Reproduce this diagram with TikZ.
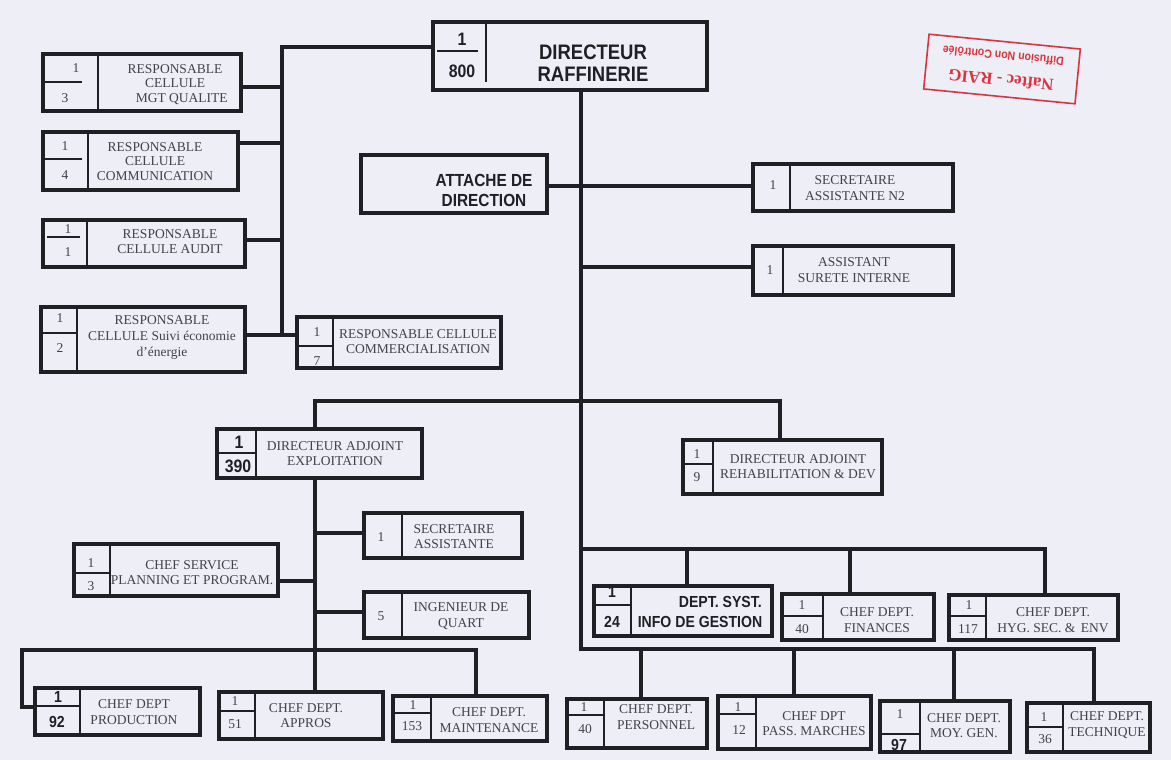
\documentclass[tikz,border=0pt]{standalone}
\usepackage{fontspec}
\setmainfont{Liberation Serif}
\setsansfont{Liberation Sans}
\newfontfamily\hsans{Liberation Sans}[FakeStretch=0.88]
\usetikzlibrary{fit}
\definecolor{ink}{RGB}{32,32,36}
\definecolor{txt}{RGB}{66,66,72}
\definecolor{bgc}{RGB}{237,238,246}
\definecolor{stampred}{RGB}{218,52,62}
\newcommand\obox[5]{\node[obx, fit={(#2,#3) (#4,#5)}] (#1) {};}
\begin{document}
\begin{tikzpicture}[x=1pt,y=-1pt,
 obx/.style={draw=ink,line width=3.2pt,inner sep=0pt,outer sep=0pt},
 conn/.style={draw=ink,line width=3.1pt},
 divl/.style={draw=ink,line width=2pt},
 hl/.style={draw=ink,line width=1.5pt},
 stx/.style={text=txt,font=\fontsize{13.5}{15.5}\selectfont,align=center,inner sep=0pt},
 stxc/.style={stx,font=\fontsize{13.5}{14.5}\selectfont},
 num/.style={text=txt,font=\fontsize{13.5}{13.5}\selectfont,inner sep=0pt},
 bnum/.style={text=ink,font=\hsans\bfseries\fontsize{18}{18}\selectfont,inner sep=0pt},
 bnums/.style={text=ink,font=\hsans\bfseries\fontsize{16}{16}\selectfont,inner sep=0pt},
 btx/.style={text=ink,font=\hsans\bfseries\fontsize{17.5}{20}\selectfont,align=center,inner sep=0pt},
]
\fill[bgc] (0,0) rectangle (1171,760);
\useasboundingbox (0,0) rectangle (1171,760);

% ---------- boxes ----------
\obox{dir}{433}{22}{707}{90}
\obox{att}{361}{155}{547}{213}
\obox{mgt}{43}{54}{241}{111}
\obox{comm}{43}{132}{238}{190}
\obox{aud}{43}{220}{245}{267}
\obox{suivi}{41}{307}{245}{372}
\obox{comc}{297}{317}{501}{368}
\obox{sec2}{753}{164}{953}{211}
\obox{sur}{753}{246}{953}{295}
\obox{daex}{217}{429}{422}{478}
\obox{dare}{683}{440}{882}{494}
\obox{sa}{364}{513}{522}{558}
\obox{ing}{364}{592}{529}{638}
\obox{plan}{74}{544}{278}{596}
\obox{syst}{594}{586}{772}{636}
\obox{fin}{782}{594}{934}{640}
\obox{hyg}{949}{595}{1118}{640}
\obox{prod}{35}{688}{200}{735}
\obox{appr}{219}{692}{383}{739}
\obox{maint}{393}{696}{547}{741}
\obox{pers}{567}{699}{707}{748}
\obox{pass}{718}{696}{871}{749}
\obox{moy}{880}{701}{1010}{752}
\obox{tech}{1027}{703}{1150}{752}

% ---------- box interiors ----------
% directeur
\draw[divl] (486,24) -- (486,82);
\draw[hl] (437,51) -- (478,51);
\node[bnum] (dir-a) at (462,39) {1};
\node[bnum] (dir-b) at (462,71) {800};
\node[btx,font=\hsans\bfseries\fontsize{21}{22}\selectfont] (dir-t) at (593,63) {DIRECTEUR\\RAFFINERIE};
% attache
\node[btx] (att-t) at (484,190) {ATTACHE DE\\DIRECTION};
% mgt qualite
\draw[divl] (98,54) -- (98,111);
\draw[hl] (45,82) -- (82,82);
\node[num] (mgt-a) at (76,68) {1};
\node[num] (mgt-b) at (65,98) {3};
\node[stxc] (mgt-t) at (175,84.5) {RESPONSABLE\\CELLULE\\\hspace*{1em}MGT QUALITE};
% communication
\draw[divl] (88,132) -- (88,190);
\draw[hl] (45,159) -- (82,159);
\node[num] (comm-a) at (65,146) {1};
\node[num] (comm-b) at (65,175) {4};
\node[stxc] (comm-t) at (155,161.5) {RESPONSABLE\\CELLULE\\COMMUNICATION};
% audit
\draw[divl] (87,220) -- (87,267);
\draw[hl] (47,237) -- (80,237);
\node[num] (aud-a) at (68,229) {1};
\node[num] (aud-b) at (68,252) {1};
\node[stx] (aud-t) at (170,241.5) {RESPONSABLE\\CELLULE AUDIT};
% suivi energie
\draw[divl] (77,307) -- (77,372);
\draw[hl] (41,333) -- (77,333);
\node[num] (suivi-a) at (60,318) {1};
\node[num] (suivi-b) at (60,348) {2};
\node[stx,font=\fontsize{13.5}{16}\selectfont] (suivi-t) at (162,337.5) {RESPONSABLE\\CELLULE Suivi économie\\d'énergie};
% commercialisation
\draw[divl] (333,317) -- (333,368);
\draw[hl] (297,346) -- (333,346);
\node[num] (comc-a) at (317,332) {1};
\node[num] (comc-b) at (317,361) {7};
\node[stx] (comc-t) at (418,341.5) {RESPONSABLE CELLULE\\COMMERCIALISATION};
% secretaire N2
\draw[divl] (790,164) -- (790,211);
\node[num] (sec2-a) at (773,185) {1};
\node[stx] (sec2-t) at (855,188) {SECRETAIRE\\ASSISTANTE N2};
% surete
\draw[divl] (783,246) -- (783,295);
\node[num] (sur-a) at (770,270) {1};
\node[stx] (sur-t) at (854,270) {ASSISTANT\\SURETE INTERNE};
% DA exploitation
\draw[divl] (256,429) -- (256,478);
\draw[hl] (217,453) -- (256,453);
\node[bnum] (daex-a) at (239,442) {1};
\node[bnum] (daex-b) at (238,466) {390};
\node[stx] (daex-t) at (335,453.5) {DIRECTEUR ADJOINT\\EXPLOITATION};
% DA rehab
\draw[divl] (713,440) -- (713,494);
\draw[hl] (683,464) -- (713,464);
\node[num] (dare-a) at (697,454) {1};
\node[num] (dare-b) at (697,477) {9};
\node[stx] (dare-t) at (798,466.5) {DIRECTEUR ADJOINT\\REHABILITATION \& DEV};
% secretaire assistante
\draw[divl] (402,513) -- (402,558);
\node[num] (sa-a) at (381,537) {1};
\node[stx] (sa-t) at (454,536.5) {SECRETAIRE\\ASSISTANTE};
% ingenieur
\draw[divl] (402,592) -- (402,638);
\node[num] (ing-a) at (381,616) {5};
\node[stx] (ing-t) at (461,616) {INGENIEUR DE\\QUART};
% planning
\draw[divl] (110,544) -- (110,596);
\draw[hl] (74,573) -- (110,573);
\node[num] (plan-a) at (91,563) {1};
\node[num] (plan-b) at (91,586) {3};
\node[stx] (plan-t) at (192,572.5) {CHEF SERVICE\\PLANNING ET PROGRAM.};
% dept syst
\draw[divl] (631,586) -- (631,636);
\draw[hl] (594,605) -- (631,605);
\node[bnums] (syst-a) at (612,592) {1};
\node[bnums] (syst-b) at (612,622) {24};
\node[btx,font=\hsans\bfseries\fontsize{16}{16}\selectfont,anchor=east] (syst-t1) at (762,602) {DEPT. SYST.};
\node[btx,font=\hsans\bfseries\fontsize{16}{16}\selectfont] (syst-t2) at (700,622) {INFO DE GESTION};
% finances
\draw[divl] (823,594) -- (823,640);
\draw[hl] (782,616) -- (823,616);
\node[num] (fin-a) at (802,605) {1};
\node[num] (fin-b) at (802,629) {40};
\node[stx] (fin-t) at (877,620) {CHEF DEPT.\\FINANCES};
% hygiene
\draw[divl] (986,595) -- (986,640);
\draw[hl] (949,616) -- (986,616);
\node[num] (hyg-a) at (969,605) {1};
\node[num] (hyg-b) at (968,629) {117};
\node[stx] (hyg-t) at (1053,620) {CHEF DEPT.\\HYG. SEC. \& \hspace{0.15em}ENV};
% production
\draw[divl] (80,688) -- (80,735);
\draw[hl] (35,706) -- (80,706);
\node[bnums] (prod-a) at (58,697) {1};
\node[bnums] (prod-b) at (57,722) {92};
\node[stx] (prod-t) at (134,712) {CHEF DEPT\\PRODUCTION};
% appros
\draw[divl] (255,692) -- (255,739);
\draw[hl] (219,711) -- (255,711);
\node[num] (appr-a) at (235,701) {1};
\node[num] (appr-b) at (235,724) {51};
\node[stx] (appr-t) at (306,715.5) {CHEF DEPT.\\APPROS};
% maintenance
\draw[divl] (431,696) -- (431,741);
\draw[hl] (395,713) -- (431,713);
\node[num] (maint-a) at (413,705) {1};
\node[num] (maint-b) at (412,726) {153};
\node[stx] (maint-t) at (489,720) {CHEF DEPT.\\MAINTENANCE};
% personnel
\draw[divl] (604,699) -- (604,748);
\draw[hl] (567,715) -- (604,715);
\node[num] (pers-a) at (584,707) {1};
\node[num] (pers-b) at (585,729) {40};
\node[stx] (pers-t) at (656,717) {CHEF DEPT.\\PERSONNEL};
% pass marches
\draw[divl] (756,696) -- (756,749);
\draw[hl] (718,714) -- (756,714);
\node[num] (pass-a) at (738,707) {1};
\node[num] (pass-b) at (739,730) {12};
\node[stx] (pass-t) at (814,723.5) {CHEF DPT\\PASS. MARCHES};
% moy gen
\draw[divl] (920,701) -- (920,752);
\draw[hl] (880,734) -- (920,734);
\node[num] (moy-a) at (900,714) {1};
\node[bnums] (moy-b) at (899,745) {97};
\node[stx] (moy-t) at (964,725.5) {CHEF DEPT.\\MOY. GEN.};
% technique
\draw[divl] (1063,703) -- (1063,752);
\draw[hl] (1027,727) -- (1063,727);
\node[num] (tech-a) at (1044,717) {1};
\node[num] (tech-b) at (1045,739) {36};
\node[stx] (tech-t) at (1107,725) {CHEF DEPT.\\TECHNIQUE};

% ---------- connectors ----------
\coordinate (lt) at (282,47);
\coordinate (l1) at (282,87);
\coordinate (l2) at (282,143);
\coordinate (l3) at (282,240);
\coordinate (lb) at (282,335);
\draw[conn] (lt -| dir.west) -- (lt) -- (lb);
\draw[conn] (l1) -- (l1 -| mgt.east);
\draw[conn] (l2) -- (l2 -| comm.east);
\draw[conn] (l3) -- (l3 -| aud.east);
\draw[conn] (suivi.east |- lb) -- (lb) -- (lb -| comc.west);

\coordinate (m1) at (581,186);
\coordinate (m2) at (581,267);
\coordinate (mb2) at (581,549);
\coordinate (m3) at (581,649);
\coordinate (b3e) at (1094,649);
\draw[conn] (dir.south -| m1) -- (m3) -- (b3e) -- (b3e |- tech.north);
\draw[conn] (att.east |- m1) -- (m1 -| sec2.west);
\draw[conn] (m2) -- (m2 -| sur.west);

\coordinate (b1l) at (315,401);
\coordinate (b1r) at (780,401);
\draw[conn] (b1l |- daex.north) -- (b1l) -- (b1r) -- (b1r |- dare.north);
\draw[conn] (b1l |- daex.south) -- (b1l |- appr.north);
\coordinate (d1) at (315,533);
\coordinate (d2) at (315,581);
\coordinate (d3) at (315,612);
\draw[conn] (d1) -- (d1 -| sa.west);
\draw[conn] (d2) -- (d2 -| plan.east);
\draw[conn] (d3) -- (d3 -| ing.west);

\coordinate (bl0) at (22,707);
\coordinate (bl1) at (22,650);
\coordinate (bl2) at (476,650);
\draw[conn] (prod.west |- bl0) -- (bl0) -- (bl1) -- (bl2) -- (bl2 |- maint.north);

\coordinate (b2a) at (687,549);
\coordinate (b2b) at (850,549);
\coordinate (b2e) at (1045,549);
\draw[conn] (mb2) -- (b2e) -- (b2e |- hyg.north);
\draw[conn] (b2a) -- (b2a |- syst.north);
\draw[conn] (b2b) -- (b2b |- fin.north);

\coordinate (b3a) at (641,649);
\coordinate (b3b) at (794,649);
\coordinate (b3c) at (954,649);
\draw[conn] (b3a) -- (b3a |- pers.north);
\draw[conn] (b3b) -- (b3b |- pass.north);
\draw[conn] (b3c) -- (b3c |- moy.north);

% ---------- stamp ----------
\node[draw=stampred,line width=1.6pt,minimum width=152pt,minimum height=55pt,rotate=174.4,text=stampred,align=center,inner sep=2pt,font=\fontsize{12}{23}\selectfont] (stamp) at (1002,69)
 {{\bfseries\fontsize{17}{20}\selectfont Naftec - RAIG}\\{\hsans\bfseries Diffusion Non Contrôlée}};
\end{tikzpicture}
\end{document}
